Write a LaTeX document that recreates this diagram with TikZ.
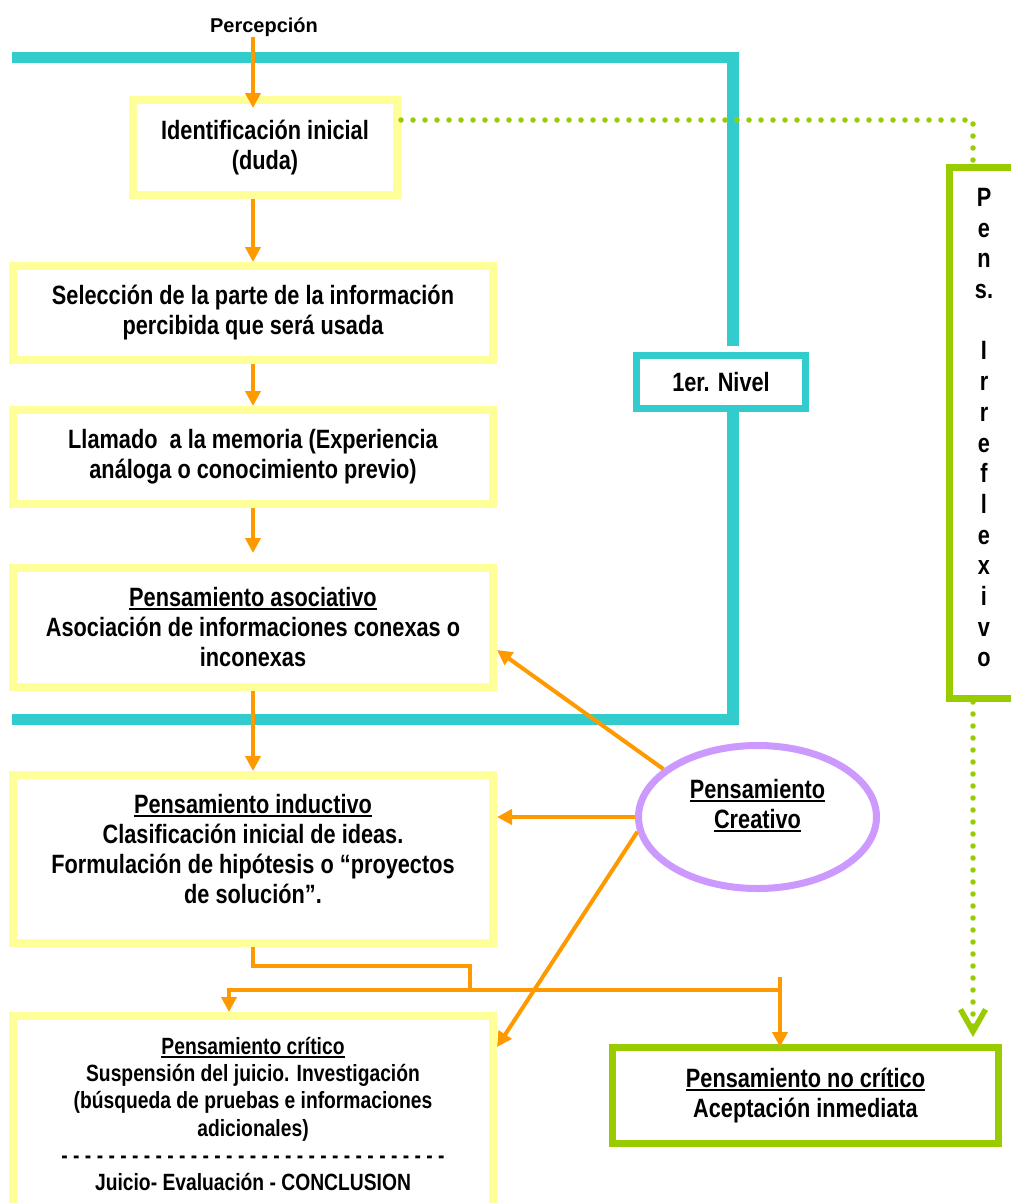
\documentclass[tikz,border=0pt]{standalone}
\usepackage{fontspec}
\setmainfont{Liberation Sans}
\newfontfamily\narrowf[FakeStretch=0.82]{Liberation Sans}
\usetikzlibrary{arrows.meta,shapes.geometric}
\definecolor{yel}{HTML}{FFFF99}
\definecolor{tealc}{HTML}{33CCCC}
\definecolor{org}{HTML}{FF9900}
\definecolor{grn}{HTML}{99CC00}
\definecolor{purp}{HTML}{CC99FF}
\newcommand\fmain{\narrowf\bfseries\fontsize{26.5pt}{30pt}\selectfont}
\newcommand\fvert{\narrowf\bfseries\fontsize{26.5pt}{30.7pt}\selectfont}
\newcommand\fcrit{\narrowf\bfseries\fontsize{23.5pt}{27.2pt}\selectfont}
\newcommand\fperc{\bfseries\fontsize{20pt}{24pt}\selectfont}
\newcommand\myul[1]{\setbox0\hbox{#1}\rlap{\rule[-3.5pt]{\wd0}{2pt}}\box0}
\tikzset{
  ybox/.style={draw=yel, line width=8pt, fill=white, align=center, font=\fmain, inner sep=0pt},
  gbox/.style={draw=grn, line width=7pt, fill=white, align=center, font=\fmain, inner sep=0pt},
  tbox/.style={draw=tealc, line width=7pt, fill=white, align=center, font=\fmain, inner sep=0pt},
  txt/.style={align=center, inner sep=0pt},
  tealline/.style={draw=tealc, line width=11.5pt},
  oline/.style={draw=org, line width=4pt},
  oarr/.style={draw=org, line width=4pt, -{Triangle[length=15pt,width=15pt]}},
  gdot/.style={draw=grn, line width=5.5pt, line cap=round, dash pattern=on 0pt off 12pt}
}
\begin{document}
\begin{tikzpicture}[x=1pt,y=-1pt]
\useasboundingbox (0,0) rectangle (1011,1203);
\fill[white] (0,0) rectangle (1011,1203);
\clip (0,0) rectangle (1011,1203);

% boxes
\node[txt, font=\fperc, anchor=base] (perc) at (264,32.3) {Percepción};
\node[ybox, minimum width=264pt, minimum height=95pt] (id) at (265,147.5)
  {Identificación inicial\\(duda)};
\node[ybox, minimum width=480pt, minimum height=94pt] (sel) at (253,313)
  {Selección de la parte de la información\\percibida que será usada};
\node[ybox, minimum width=480pt, minimum height=94pt] (llam) at (253,457)
  {Llamado\ \ a la memoria (Experiencia\\análoga o conocimiento previo)};
\node[ybox, minimum width=480pt, minimum height=119pt] (asoc) at (253,627.5)
  {\myul{Pensamiento asociativo}\\Asociación de informaciones conexas o\\inconexas};
\node[ybox, minimum width=480pt, minimum height=168pt, text depth=21pt] (ind) at (253,859)
  {\myul{Pensamiento inductivo}\\Clasificación inicial de ideas.\\Formulación de hipótesis o “proyectos\\de solución”.};
\node[ybox, font=\fcrit, minimum width=480pt, minimum height=196pt] (crit) at (253,1114)
  {\myul{Pensamiento crítico}\\Suspensión del juicio. Investigación\\(búsqueda de pruebas e informaciones\\adicionales)\\- - - - - - - - - - - - - - - - - - - - - - - - - - - - - - - - -\\Juicio- Evaluación - CONCLUSION};
\node[gbox, minimum width=386pt, minimum height=96pt] (nocrit) at (805.5,1095.5)
  {\myul{Pensamiento no crítico}\\Aceptación inmediata};
\node[tbox, minimum width=169pt, minimum height=53pt] (nivel) at (721,382) {1er. Nivel};
\node[gbox, minimum width=69pt, minimum height=531pt] (pens) at (984,433) {};
\node[txt, font=\fvert] (pensv) at (984,427.75)
  {P\\e\\n\\s.\\[30.7pt]I\\r\\r\\e\\f\\l\\e\\x\\i\\v\\o};
\node[ellipse, draw=purp, line width=7pt, fill=white, minimum width=238pt, minimum height=143pt, inner sep=0pt] (ell) at (757.5,817) {};
\node[txt, font=\fmain] (ellt) at (757.5,805.5) {\myul{Pensamiento}\\\myul{Creativo}};

% teal bracket
\coordinate (tl1) at (12,57.5);
\coordinate (tl2) at (12,719.5);
\draw[tealline] (tl1) -| ([xshift=12pt,yshift=6pt]nivel.north);
\draw[tealline] ([xshift=12pt]nivel.south) |- (tl2);

% main flow arrows
\draw[oarr] (perc.south -| sel.north) -- (sel.north |- 0,108);
\draw[oarr] (sel.north |- id.south) -- (sel.north);
\draw[oarr] (sel.south) -- (llam.north);
\draw[oarr] (llam.south) -- ([yshift=11pt]asoc.north);
\draw[oarr] (asoc.south) -- (ind.north);

% creative thinking arrows
\draw[oarr] (ell.153) -- (asoc.east |- 0,650);
\draw[oarr] (ell.west) -- (ind.east |- ell.west);
\draw[oarr] (ell.187) -- (crit.east |- 0,1047);

% split to critical / non critical
\coordinate (j1) at (470,990);
\coordinate (j2) at (780,990);
\coordinate (tT) at (780,977);
\draw[oline] (ind.south) |- (j1 |- 0,966) -- (j1);
\draw[oarr] (j2) -| (crit.north -| 229,0);
\draw[oarr] (tT) -- (tT |- 0,1047);

% green dotted
\coordinate (pt) at ([xshift=-11pt]pens.north);
\coordinate (pb) at ([xshift=-11pt]pens.south);
\draw[gdot] ([yshift=27.5pt]id.east) -| (pt);
\draw[gdot, -{Straight Barb[length=22pt,width=25pt]}] (pb) -- (pb |- 0,1037);
\end{tikzpicture}
\end{document}
